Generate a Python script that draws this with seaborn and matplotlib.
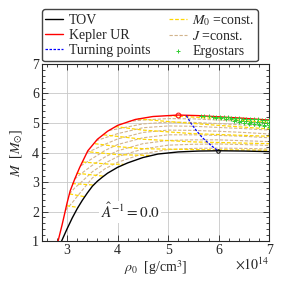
# -*- coding: utf-8 -*-

import matplotlib
matplotlib.use("Agg")
import matplotlib.pyplot as plt
from matplotlib.ticker import MultipleLocator
import seaborn as sns

# values (rho_0 in 1e14 g/cm^3, M in M_sun)
tov_rho = [2.89, 3.0, 3.1, 3.2, 3.3, 3.4, 3.5, 3.6, 3.7, 3.8, 4.0, 4.2,
           4.5, 4.8, 5.2, 5.6, 6.0, 6.5, 7.0]
tov_m = [1.0, 1.42, 1.78, 2.1, 2.38, 2.63, 2.86, 3.03, 3.17, 3.3, 3.5, 3.65,
         3.83, 3.95, 4.02, 4.05, 4.06, 4.05, 4.03]

kep_rho = [2.82, 2.9, 3.0, 3.06, 3.15, 3.25, 3.41, 3.6, 3.8, 4.0, 4.35, 4.7,
           5.2, 5.6, 6.0, 6.5, 7.0]
kep_m = [1.0, 1.55, 2.3, 2.7, 3.1, 3.5, 4.06, 4.45, 4.72, 4.92, 5.12, 5.22,
         5.27, 5.25, 5.21, 5.16, 5.1]

turn_rho = [5.36, 5.46, 5.57, 5.68, 5.83, 5.99]
turn_m = [5.25, 4.97, 4.72, 4.5, 4.27, 4.05]

# constant baryon mass sequences
m0_rho = [
    [2.985, 3.22],
    [3.045, 3.36],
    [3.1, 3.52],
    [3.19, 3.72],
    [3.3, 3.8, 4.12],
    [3.45, 4.0, 4.65],
    [3.55, 4.0, 4.5, 5.5, 7.0],
    [3.72, 4.5, 5.5, 7.0],
    [3.95, 4.5, 5.5, 7.0],
    [4.4, 5.0, 6.0, 7.0],
    [5.0, 6.0, 7.0],
]
m0_m = [
    [2.2, 2.14],
    [2.6, 2.5],
    [2.95, 2.9],
    [3.3, 3.2],
    [3.68, 3.61, 3.6],
    [4.02, 3.93, 3.9],
    [4.3, 4.2, 4.13, 4.1, 4.08],
    [4.6, 4.45, 4.36, 4.3],
    [4.88, 4.76, 4.64, 4.55],
    [5.14, 5.05, 4.92, 4.8],
    [5.25, 5.15, 5.02],
]

# constant angular momentum sequences
j_rho = [
    [2.97, 3.1, 3.25, 3.5, 3.75, 4.0, 4.5, 5.0, 5.5, 6.0, 6.5, 7.0],
    [3.045, 3.15, 3.25, 3.5, 3.75, 4.0, 4.5, 5.0, 5.5, 6.0, 6.5, 7.0],
    [3.15, 3.25, 3.5, 3.75, 4.0, 4.5, 5.0, 5.5, 6.0, 6.5, 7.0],
    [3.27, 3.5, 3.75, 4.0, 4.5, 5.0, 5.5, 6.0, 6.5, 7.0],
    [3.39, 3.5, 3.75, 4.0, 4.5, 5.0, 5.5, 6.0, 6.5, 7.0],
    [3.57, 3.75, 4.0, 4.5, 5.0, 5.5, 6.0, 6.5, 7.0],
    [3.83, 4.0, 4.5, 5.0, 5.5, 6.0, 6.5, 7.0],
    [4.2, 4.5, 5.0, 5.5, 6.0, 6.5, 7.0],
]
j_m = [
    [2.05, 2.3, 2.62, 3.14, 3.45, 3.67, 3.96, 4.1, 4.14, 4.15, 4.14, 4.12],
    [2.6, 2.8, 2.95, 3.35, 3.64, 3.86, 4.12, 4.25, 4.28, 4.29, 4.27, 4.24],
    [3.1, 3.25, 3.57, 3.85, 4.06, 4.3, 4.41, 4.43, 4.43, 4.4, 4.37],
    [3.55, 3.8, 4.07, 4.27, 4.5, 4.6, 4.6, 4.58, 4.55, 4.5],
    [4.0, 4.08, 4.28, 4.46, 4.68, 4.76, 4.75, 4.72, 4.68, 4.63],
    [4.4, 4.5, 4.64, 4.84, 4.9, 4.89, 4.85, 4.81, 4.76],
    [4.75, 4.8, 4.97, 5.03, 5.02, 4.98, 4.93, 4.89],
    [5.05, 5.1, 5.15, 5.14, 5.1, 5.05, 5.0],
]

ergo_rho = [5.65, 5.72, 5.8, 5.88, 5.95, 6.02, 6.1, 6.18, 6.25, 6.32,
            6.4, 6.48, 6.55, 6.62, 6.7, 6.78, 6.85, 6.92, 7.0,
            5.95, 6.05, 6.15, 6.25, 6.35, 6.45, 6.55, 6.65, 6.75, 6.85,
            6.95, 6.3, 6.4, 6.5, 6.6, 6.7, 6.8, 6.9, 7.0,
            6.6, 6.7, 6.8, 6.9, 7.0]
ergo_m = [5.25, 5.24, 5.23, 5.22, 5.21, 5.2, 5.2, 5.19, 5.18, 5.17,
          5.16, 5.15, 5.15, 5.14, 5.13, 5.12, 5.11, 5.1, 5.09,
          5.18, 5.16, 5.14, 5.12, 5.1, 5.08, 5.06, 5.05, 5.03, 5.02,
          5.0, 5.06, 5.04, 5.01, 4.99, 4.97, 4.95, 4.94, 4.92,
          4.98, 4.95, 4.92, 4.9, 4.88]

sns.set_style("ticks")
plt.rcParams["font.family"] = ["Liberation Serif", "DejaVu Serif"]
plt.rcParams["mathtext.fontset"] = "stix"
plt.rcParams["font.size"] = 10

fig = plt.figure(figsize=(2.83, 2.83), dpi=100)
ax = fig.add_axes([0.148, 0.148, 0.803, 0.626])

ax.grid(True, which="major", color="#c8c8c8", linewidth=0.6)

for i, (xs, ys) in enumerate(zip(j_rho, j_m)):
    sns.lineplot(x=xs, y=ys, ax=ax, sort=False, color="tan", linewidth=0.8,
                 linestyle=(0, (3, 1.5)),
                 label=None if i else r"$J$ =const.", legend=False)

for i, (xs, ys) in enumerate(zip(m0_rho, m0_m)):
    sns.lineplot(x=xs, y=ys, ax=ax, sort=False, color="gold", linewidth=0.9,
                 linestyle=(0, (3, 1.5)),
                 label=None if i else r"$M_0$ =const.", legend=False)

sns.lineplot(x=tov_rho, y=tov_m, ax=ax, sort=False, color="black",
             linewidth=1.0, label="TOV", legend=False)
sns.lineplot(x=kep_rho, y=kep_m, ax=ax, sort=False, color="red",
             linewidth=1.0, label="Kepler UR", legend=False)
sns.lineplot(x=turn_rho, y=turn_m, ax=ax, sort=False, color="blue",
             linewidth=0.9, linestyle=(0, (2, 1.2)),
             label="Turning points", legend=False)
sns.scatterplot(x=ergo_rho, y=ergo_m, ax=ax, marker="+", color="limegreen",
                s=8, linewidth=0.7, label="Ergostars", legend=False,
                zorder=5)

# maxima of the TOV and Kepler sequences
ax.plot([5.2], [5.27], marker="o", ms=3.5, mfc="none", mec="red", mew=0.7)
ax.plot([5.99], [4.05], marker="o", ms=2.5, mfc="none", mec="black",
        mew=0.7)

ax.text(4.25, 2.0, r"$\hat{A}^{-1} = 0.0$", ha="center", va="center",
        fontsize=11, bbox=dict(facecolor="white", edgecolor="none", pad=1))

ax.set_xlim(2.5, 7.0)
ax.set_ylim(1, 7)
ax.xaxis.set_major_locator(MultipleLocator(1))
ax.xaxis.set_minor_locator(MultipleLocator(0.2))
ax.yaxis.set_major_locator(MultipleLocator(1))
ax.yaxis.set_minor_locator(MultipleLocator(0.2))
ax.tick_params(which="both", direction="in", top=True, right=True,
               width=0.6, labelsize=10, pad=2)
ax.tick_params(which="major", length=4)
ax.tick_params(which="minor", length=2)
for sp in ax.spines.values():
    sp.set_linewidth(0.8)

ax.set_xlabel(r"$\rho_0$  [g/cm$^3$]", fontsize=10, labelpad=1)
ax.set_ylabel(r"$M$  [$M_{\odot}$]", fontsize=10, labelpad=5)
ax.text(1.0, -0.085, r"$\times 10^{14}$", transform=ax.transAxes,
        ha="right", va="top", fontsize=10)

handles, labels = ax.get_legend_handles_labels()
order = ["TOV", "Kepler UR", "Turning points",
         r"$M_0$ =const.", r"$J$ =const.", "Ergostars"]
hmap = dict(zip(labels, handles))
ax.legend([hmap[k] for k in order], order, ncol=2, loc="lower left",
          bbox_to_anchor=(0.0, 1.015), fontsize=10, frameon=True,
          fancybox=True, edgecolor="#444444", framealpha=1,
          handlelength=1.3, handletextpad=0.4, columnspacing=1.3,
          labelspacing=0.15, borderpad=0.25, borderaxespad=0)

fig.savefig("out.png", dpi=100)
